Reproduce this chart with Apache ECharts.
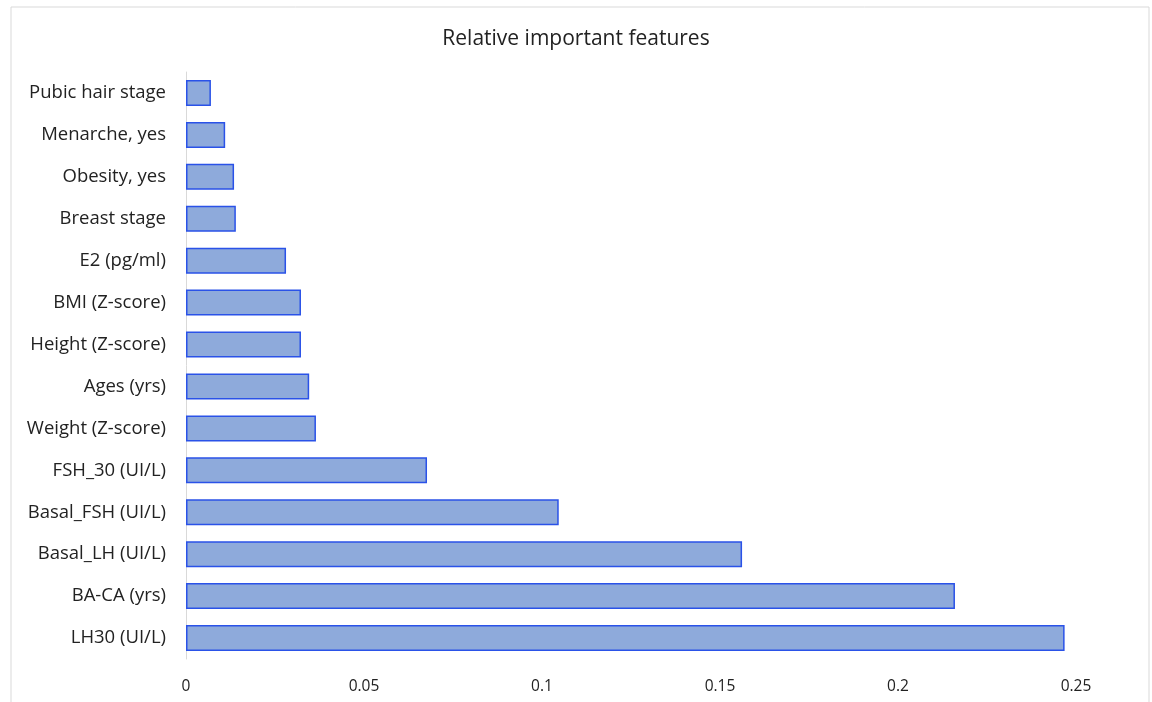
<!DOCTYPE html>
<html>
<head>
<meta charset="utf-8">
<script src="https://cdn.jsdelivr.net/npm/echarts@6/dist/echarts.min.js"></script>
<style>
  html, body { margin: 0; padding: 0; background: #fff; }
  #chart { width: 1152px; height: 702px; }
</style>
</head>
<body>
<div id="chart"></div>
<script>
// bottom to top, as ECharts draws a category y axis
const features = [
  "LH30 (UI/L)", "BA-CA (yrs)", "Basal_LH (UI/L)", "Basal_FSH (UI/L)", "FSH_30 (UI/L)",
  "Weight (Z-score)", "Ages (yrs)", "Height (Z-score)", "BMI (Z-score)", "E2 (pg/ml)",
  "Breast stage", "Obesity, yes", "Menarche, yes", "Pubic hair stage"
];
const importance = [
  0.2468, 0.2160, 0.1562, 0.1047, 0.0677,
  0.0365, 0.0346, 0.0323, 0.0323, 0.0281,
  0.0140, 0.0135, 0.0110, 0.0070
];
const xTicks = [0, 0.05, 0.1, 0.15, 0.2, 0.25];

const font = "Open Sans";
const chart = echarts.init(document.getElementById("chart"));
chart.setOption({
  animation: false,
  title: {
    text: "Relative important features",
    left: "center",
    top: 24,
    textStyle: { fontFamily: font, fontSize: 21, fontWeight: "normal", color: "#222" }
  },
  graphic: [{
    type: "rect",
    shape: { x: 11, y: 7, width: 1138, height: 710 },
    style: { fill: "none", stroke: "#d9d9d9", lineWidth: 1 },
    silent: true
  }],
  grid: { left: 186, right: 76, top: 72, bottom: 43 },
  xAxis: {
    type: "value",
    min: xTicks[0],
    max: xTicks[xTicks.length - 1],
    interval: 0.05,
    axisLine: { show: false },
    axisTick: { show: false },
    splitLine: { show: false },
    axisLabel: {
      fontFamily: font, fontSize: 15.5, color: "#222", margin: 20,
      formatter: (v) => String(+v.toFixed(2))
    }
  },
  yAxis: {
    type: "category",
    data: features,
    axisLine: { show: true, lineStyle: { color: "#d9d9d9", width: 1 } },
    axisTick: { show: false },
    axisLabel: { fontFamily: font, fontSize: 18.5, color: "#222", margin: 20 }
  },
  series: [{
    type: "bar",
    data: importance,
    barCategoryGap: "38%",
    itemStyle: { color: "#8eaadb", borderColor: "#2a52e8", borderWidth: 1.5 }
  }]
});
</script>
</body>
</html>
